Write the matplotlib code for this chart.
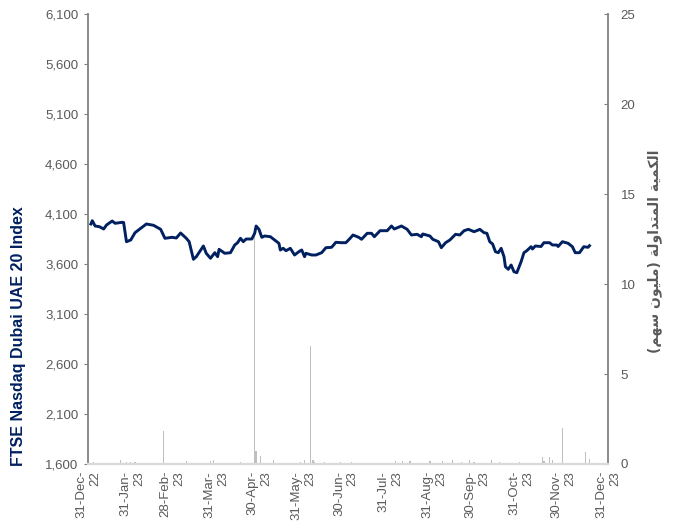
import matplotlib
matplotlib.use('Agg')
import matplotlib.pyplot as plt
import pandas as pd
from matplotlib.ticker import FuncFormatter

# index closes
index_dates = [
    "2023-01-02", "2023-01-03", "2023-01-05", "2023-01-08", "2023-01-11", "2023-01-13",
    "2023-01-17", "2023-01-19", "2023-01-24", "2023-01-25", "2023-01-27", "2023-01-30",
    "2023-02-02", "2023-02-06", "2023-02-10", "2023-02-15", "2023-02-20", "2023-02-23",
    "2023-02-28", "2023-03-03", "2023-03-06", "2023-03-10", "2023-03-12", "2023-03-15",
    "2023-03-17", "2023-03-22", "2023-03-24", "2023-03-27", "2023-03-30", "2023-04-01",
    "2023-04-02", "2023-04-06", "2023-04-10", "2023-04-13", "2023-04-15", "2023-04-17",
    "2023-04-19", "2023-04-21", "2023-04-25", "2023-04-27", "2023-04-28", "2023-04-30",
    "2023-05-02", "2023-05-04", "2023-05-08", "2023-05-11", "2023-05-14", "2023-05-15",
    "2023-05-17", "2023-05-19", "2023-05-22", "2023-05-25", "2023-05-28", "2023-05-30",
    "2023-06-01", "2023-06-02", "2023-06-06", "2023-06-09", "2023-06-13", "2023-06-16",
    "2023-06-20", "2023-06-23", "2023-06-27", "2023-06-30", "2023-07-03", "2023-07-05",
    "2023-07-09", "2023-07-11", "2023-07-15", "2023-07-18", "2023-07-20", "2023-07-24",
    "2023-07-29", "2023-08-01", "2023-08-03", "2023-08-08", "2023-08-12", "2023-08-15",
    "2023-08-19", "2023-08-22", "2023-08-23", "2023-08-28", "2023-08-30", "2023-09-03",
    "2023-09-05", "2023-09-08", "2023-09-11", "2023-09-15", "2023-09-18", "2023-09-21",
    "2023-09-24", "2023-09-28", "2023-10-01", "2023-10-02", "2023-10-05", "2023-10-07",
    "2023-10-09", "2023-10-11", "2023-10-13", "2023-10-15", "2023-10-17", "2023-10-19",
    "2023-10-20", "2023-10-22", "2023-10-24", "2023-10-26", "2023-10-28", "2023-10-31",
    "2023-11-02", "2023-11-04", "2023-11-07", "2023-11-08", "2023-11-10", "2023-11-14",
    "2023-11-16", "2023-11-20", "2023-11-22", "2023-11-25", "2023-11-26", "2023-11-29",
    "2023-12-03", "2023-12-06", "2023-12-08", "2023-12-11", "2023-12-14", "2023-12-17",
    "2023-12-18",
]
index_values = [
    4000, 4033, 3980, 3973, 3950, 3990,
    4030, 4007, 4017, 4015, 3823, 3840,
    3913, 3957, 4000, 3987, 3947, 3857,
    3867, 3860, 3910, 3857, 3823, 3647,
    3673, 3780, 3707, 3657, 3713, 3673,
    3747, 3707, 3713, 3790, 3813, 3857,
    3823, 3850, 3850, 3907, 3980, 3947,
    3867, 3880, 3873, 3840, 3807, 3740,
    3757, 3733, 3757, 3690, 3723, 3740,
    3673, 3707, 3690, 3690, 3713, 3763,
    3767, 3817, 3813, 3813, 3857, 3890,
    3867, 3847, 3907, 3907, 3873, 3933,
    3933, 3980, 3950, 3980, 3947, 3890,
    3897, 3873, 3900, 3880, 3847, 3823,
    3763, 3813, 3840, 3897, 3890, 3933,
    3947, 3923, 3940, 3947, 3913, 3907,
    3823, 3800, 3723, 3713, 3757, 3673,
    3573, 3547, 3590, 3523, 3513, 3623,
    3713, 3733, 3773, 3750, 3780, 3775,
    3813, 3813, 3790, 3790, 3775, 3823,
    3807, 3773, 3713, 3713, 3773, 3767,
    3783,
]

# traded volume (million shares), visible bars only
vol_dates = [
    "2023-01-04", "2023-01-23", "2023-01-27", "2023-01-30", "2023-02-02", "2023-02-22",
    "2023-03-10", "2023-03-27", "2023-03-29", "2023-04-17", "2023-04-27", "2023-04-28",
    "2023-05-01", "2023-05-10", "2023-05-29", "2023-06-01", "2023-06-05", "2023-06-07",
    "2023-06-08", "2023-06-15", "2023-06-26", "2023-07-04", "2023-08-04", "2023-08-09",
    "2023-08-14", "2023-08-28", "2023-09-06", "2023-09-13", "2023-09-19", "2023-09-25",
    "2023-09-28", "2023-10-10", "2023-10-16", "2023-10-30", "2023-11-15", "2023-11-16",
    "2023-11-20", "2023-11-22", "2023-11-29", "2023-12-15", "2023-12-18",
]
vol_values = [
    0.10, 0.20, 0.10, 0.10, 0.10, 1.85,
    0.17, 0.15, 0.24, 0.10, 13.1, 0.74,
    0.44, 0.20, 0.10, 0.22, 6.55, 0.22,
    0.10, 0.10, 0.10, 0.10, 0.17, 0.15,
    0.15, 0.15, 0.15, 0.20, 0.10, 0.25,
    0.10, 0.20, 0.10, 0.10, 0.37, 0.15,
    0.40, 0.25, 1.98, 0.65, 0.28,
]

tick_dates = [
    "2022-12-31", "2023-01-31", "2023-02-28", "2023-03-31", "2023-04-30", "2023-05-31",
    "2023-06-30", "2023-07-31", "2023-08-31", "2023-09-30", "2023-10-31", "2023-11-30",
    "2023-12-31",
]
tick_labels = [
    "31-Dec-\n22", "31-Jan-\n23", "28-Feb-\n23", "31-Mar-\n23", "30-Apr-\n23", "31-May-\n23",
    "30-Jun-\n23", "31-Jul-\n23", "31-Aug-\n23", "30-Sep-\n23", "31-Oct-\n23", "30-Nov-\n23",
    "31-Dec-\n23",
]

left_label = "FTSE Nasdaq Dubai UAE 20 Index"
# "الكمية المتداولة (مليون سهم)" in shaped presentation forms, visual order
right_label = ("(" + "\ufee2\ufeec\ufeb3" + " " + "\ufee5\ufeee\ufef4\ufee0\ufee3" + ")"
               + " " + "\ufe94\ufedf\ufeed\ufe8d\ufeaa\ufe98\ufee4\ufedf\ufe8d"
               + " " + "\ufe94\ufef4\ufee4\ufedc\ufedf\ufe8d")

NAVY = "#002060"
GREY_TXT = "#595959"
SPINE = "#808080"

plt.rcParams['font.family'] = ['Liberation Sans', 'DejaVu Sans']

fig = plt.figure(figsize=(6.8, 5.24), dpi=100)
ax = fig.add_axes([88 / 680, 1 - 464 / 524, 520 / 680, 450 / 524])
ax2 = ax.twinx()

# volume bars behind the index line
ax2.bar(pd.to_datetime(vol_dates), vol_values, width=0.9, color="#bfbfbf", zorder=1)
ax2.set_ylim(0, 25)
ax2.set_yticks(range(0, 26, 5))

ax.set_zorder(ax2.get_zorder() + 1)
ax.patch.set_visible(False)
ax.plot(pd.to_datetime(index_dates), index_values, color=NAVY, lw=2.1,
        solid_joinstyle='round')
ax.set_ylim(1600, 6100)
ax.set_yticks(range(1600, 6101, 500))
ax.yaxis.set_major_formatter(FuncFormatter(lambda v, p: f"{int(v):,}"))
ax.set_xlim(pd.Timestamp("2022-12-31"), pd.Timestamp("2023-12-31"))
ax.set_xticks(pd.to_datetime(tick_dates))
ax.set_xticklabels(tick_labels, rotation=90, ha='center', va='top',
                   multialignment='right')

for a in (ax, ax2):
    for s in a.spines.values():
        s.set_visible(False)
ax.spines['left'].set_visible(True)
ax.spines['left'].set_color(SPINE)
ax.spines['left'].set_linewidth(1.3)
ax2.spines['right'].set_visible(True)
ax2.spines['right'].set_color(SPINE)
ax2.spines['right'].set_linewidth(1.3)
ax.spines['bottom'].set_visible(True)
ax.spines['bottom'].set_color("#d9d9d9")
ax.spines['bottom'].set_linewidth(1.6)

ax.tick_params(axis='y', direction='out', length=3, color=SPINE, labelsize=9.5,
               labelcolor=GREY_TXT, pad=4)
ax.tick_params(axis='x', length=0, labelsize=9.5, labelcolor=GREY_TXT, pad=5)
ax2.tick_params(axis='y', direction='in', length=3, color=SPINE, labelsize=9.5,
                labelcolor=GREY_TXT, pad=9)

# axis titles sit where the reference places them
fig.text(19 / 680, 1 - 336 / 524, left_label, color=NAVY, fontsize=11.5,
         fontweight='bold', rotation=90, ha='center', va='center')
fig.text(655 / 680, 1 - 251 / 524, right_label, color=GREY_TXT, fontsize=10,
         fontweight='bold', rotation=90, ha='center', va='center',
         family=['DejaVu Sans'])

fig.savefig("out.png", dpi=100)
